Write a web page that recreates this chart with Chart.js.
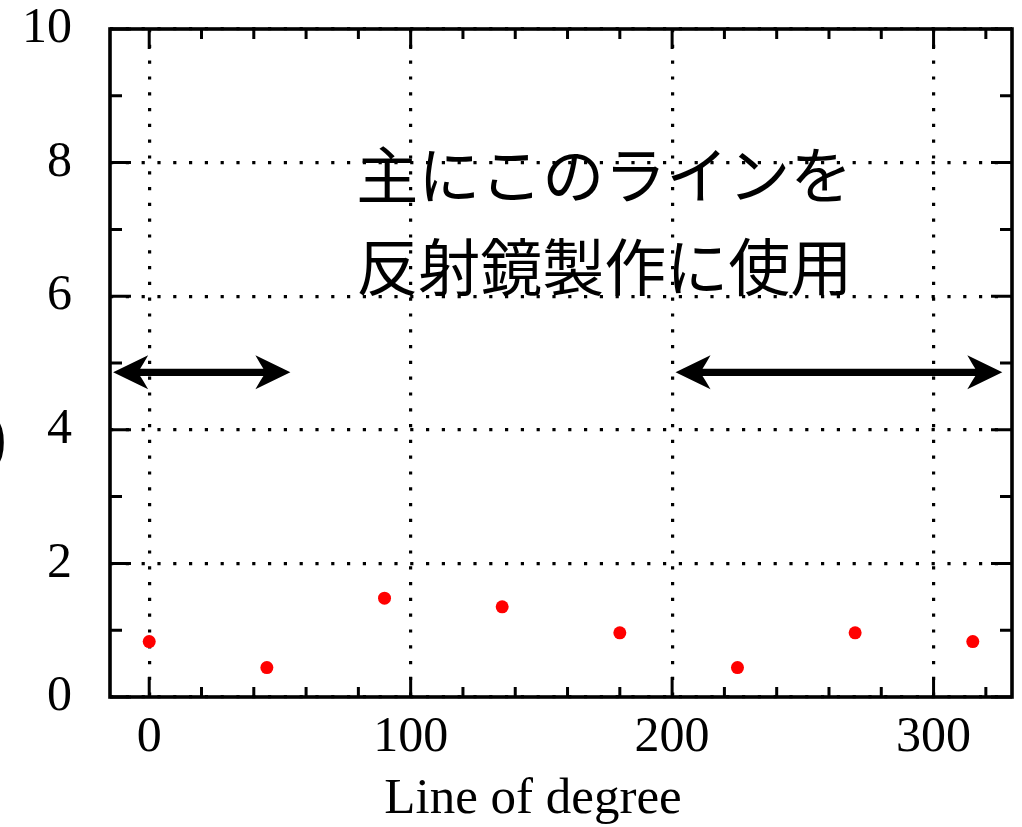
<!DOCTYPE html>
<html>
<head>
<meta charset="utf-8">
<script src="https://cdn.jsdelivr.net/npm/chart.js@4/dist/chart.umd.min.js"></script>
<style>
  html, body { margin: 0; padding: 0; background: #fff; overflow: hidden; }
  #wrap { position: relative; width: 1022px; height: 827px; }
</style>
</head>
<body>
<div id="wrap"><canvas id="c" width="1022" height="827"></canvas></div>
<script>
// Measured samples: one value per line angle
const angles = [0, 45, 90, 135, 180, 225, 270, 315];
const values = [0.83, 0.44, 1.48, 1.35, 0.96, 0.44, 0.96, 0.83];

// Axis ranges and tick values
const xRange = [-15, 330];
const yRange = [0, 10];
const xTicks = [0, 100, 200, 300];
const yTicks = [0, 2, 4, 6, 8, 10];
const xMinorStep = 20;
const yMinorStep = 1;

// Double-headed arrows marking the angle ranges in use (data units)
const arrowSpans = [[-13.8, 54.0], [201.3, 326.3]];
const arrowLevel = 4.86;

// Annotation text
const noteLines = ['主にこのラインを', '反射鏡製作に使用'];
const noteAt = { x: 174, y: 7.77 };
const xTitle = 'Line of degree';
const yTitleTail = ')';

const SERIF = '"Liberation Serif", "Times New Roman", serif';
const CJK = '"Noto Sans CJK JP", "Noto Sans", sans-serif';

// Keep the plot frame exactly where the layout padding puts it
function clearLabelPadding(s) {
  s.paddingTop = 0; s.paddingBottom = 0; s.paddingLeft = 0; s.paddingRight = 0;
}

const decorations = {
  id: 'decorations',
  afterDatasetsDraw(chart) {
    const { ctx, chartArea: a, scales: { x, y } } = chart;
    ctx.save();

    // Annotation lines
    ctx.fillStyle = '#000';
    ctx.font = '62px ' + CJK;
    ctx.textAlign = 'center';
    ctx.textBaseline = 'middle';
    const nx = x.getPixelForValue(noteAt.x);
    const ny = y.getPixelForValue(noteAt.y);
    noteLines.forEach((t, i) => ctx.fillText(t, nx, ny - 3 + i * 92));

    // Arrows
    const ay = y.getPixelForValue(arrowLevel);
    const head = 35, half = 17, neck = 27, shaft = 3.6;
    arrowSpans.forEach(([v1, v2]) => {
      const x1 = x.getPixelForValue(v1), x2 = x.getPixelForValue(v2);
      ctx.beginPath();
      ctx.moveTo(x1, ay);
      ctx.lineTo(x1 + head, ay - half);
      ctx.quadraticCurveTo(x1 + head - 5, ay - 8, x1 + neck, ay - shaft);
      ctx.lineTo(x2 - neck, ay - shaft);
      ctx.quadraticCurveTo(x2 - head + 5, ay - 8, x2 - head, ay - half);
      ctx.lineTo(x2, ay);
      ctx.lineTo(x2 - head, ay + half);
      ctx.quadraticCurveTo(x2 - head + 5, ay + 8, x2 - neck, ay + shaft);
      ctx.lineTo(x1 + neck, ay + shaft);
      ctx.quadraticCurveTo(x1 + head - 5, ay + 8, x1 + head, ay + half);
      ctx.closePath();
      ctx.fill();
    });

    // Inward tick marks on all four sides
    ctx.strokeStyle = '#000';
    ctx.lineWidth = 3;
    ctx.lineCap = 'butt';
    ctx.beginPath();
    const x0 = Math.ceil(xRange[0] / xMinorStep) * xMinorStep;
    for (let v = x0; v <= xRange[1]; v += xMinorStep) {
      const px = x.getPixelForValue(v);
      const len = xTicks.includes(v) ? 20 : 10;
      ctx.moveTo(px, a.bottom); ctx.lineTo(px, a.bottom - len);
      ctx.moveTo(px, a.top); ctx.lineTo(px, a.top + len);
    }
    for (let v = yRange[0]; v <= yRange[1]; v += yMinorStep) {
      const py = y.getPixelForValue(v);
      const len = yTicks.includes(v) ? 21 : 12;
      ctx.moveTo(a.left, py); ctx.lineTo(a.left + len, py);
      ctx.moveTo(a.right, py); ctx.lineTo(a.right - len, py);
    }
    ctx.stroke();

    // Frame
    ctx.lineWidth = 3.6;
    ctx.strokeRect(a.left, a.top, a.right - a.left, a.bottom - a.top);

    // Axis titles
    ctx.font = '51px ' + SERIF;
    ctx.textAlign = 'center';
    ctx.textBaseline = 'alphabetic';
    ctx.fillText(xTitle, (a.left + a.right) / 2 - 28, 813);
    ctx.font = '72px ' + SERIF;
    ctx.textAlign = 'right';
    ctx.textBaseline = 'middle';
    ctx.fillText(yTitleTail, 7, 441);

    ctx.restore();
  }
};

new Chart(document.getElementById('c'), {
  type: 'scatter',
  data: {
    datasets: [{
      data: angles.map((a, i) => ({ x: a, y: values[i] })),
      backgroundColor: '#ff0000',
      borderWidth: 0,
      pointRadius: 6.5,
      pointHoverRadius: 6.5
    }]
  },
  options: {
    responsive: false,
    animation: false,
    events: [],
    layout: { padding: { top: 29, right: 10, left: 0, bottom: 0 } },
    plugins: { legend: { display: false }, tooltip: { enabled: false } },
    scales: {
      x: {
        type: 'linear',
        min: xRange[0],
        max: xRange[1],
        afterBuildTicks: s => { s.ticks = xTicks.map(v => ({ value: v })); },
        afterFit: s => { s.height = 130; clearLabelPadding(s); },
        grid: { color: '#000', lineWidth: 3.2, drawTicks: false },
        border: { display: false, dash: [3.2, 12.6] },
        ticks: {
          color: '#000',
          padding: 11,
          maxRotation: 0,
          font: { family: SERIF, size: 50 }
        }
      },
      y: {
        type: 'linear',
        min: yRange[0],
        max: yRange[1],
        afterBuildTicks: s => { s.ticks = yTicks.map(v => ({ value: v })); },
        afterFit: s => { s.width = 110; clearLabelPadding(s); },
        grid: { color: '#000', lineWidth: 3.2, drawTicks: false },
        border: { display: false, dash: [3.2, 12.6] },
        ticks: {
          color: '#000',
          padding: 38,
          font: { family: SERIF, size: 50, lineHeight: 1 }
        }
      }
    }
  },
  plugins: [decorations]
});
</script>
</body>
</html>
